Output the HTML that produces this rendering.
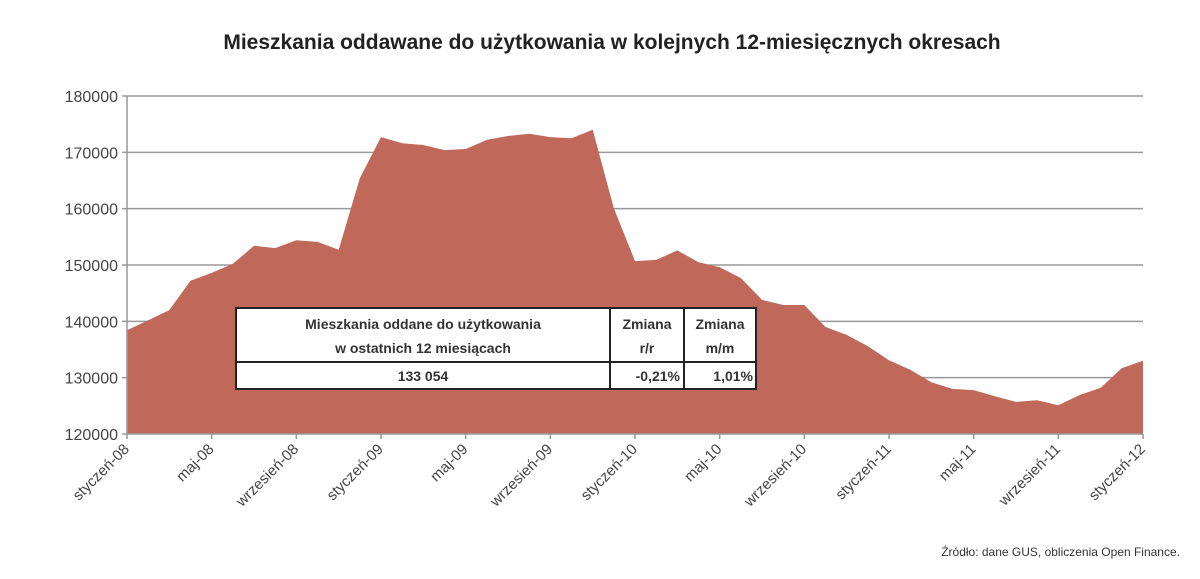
<!DOCTYPE html>
<html><head><meta charset="utf-8"><style>
body{margin:0;background:#fff;}
svg{display:block;font-family:"Liberation Sans",sans-serif;}
</style></head><body>
<svg id="chart" width="1200" height="579">
<text x="612" y="49" text-anchor="middle" font-size="21" font-weight="bold" fill="#222">Mieszkania oddawane do użytkowania w kolejnych 12-miesięcznych okresach</text>
<g id="grid"></g>
<g id="area"></g>
<g id="axes"></g>
<g>
<rect x="236" y="308" width="520" height="81" fill="#fff" stroke="#222" stroke-width="2"/>
<line x1="236" y1="362" x2="756" y2="362" stroke="#222" stroke-width="2"/>
<line x1="610" y1="308" x2="610" y2="389" stroke="#222" stroke-width="2"/>
<line x1="684" y1="308" x2="684" y2="389" stroke="#222" stroke-width="2"/>
<g font-size="14" font-weight="bold" fill="#333" text-anchor="middle">
<text x="423" y="329">Mieszkania oddane do użytkowania</text>
<text x="423" y="353">w ostatnich 12 miesiącach</text>
<text x="647" y="329">Zmiana</text>
<text x="647" y="353">r/r</text>
<text x="720" y="329">Zmiana</text>
<text x="720" y="353">m/m</text>
<text x="423" y="381">133 054</text>
<text x="680" y="381" text-anchor="end">-0,21%</text>
<text x="753" y="381" text-anchor="end">1,01%</text>
</g></g>
<text x="1180" y="556" text-anchor="end" font-size="12" fill="#333">Źródło: dane GUS, obliczenia Open Finance.</text>
</svg>
<script>
const values=[138400,140200,142000,147200,148600,150200,153400,153000,154400,154100,152700,165400,172700,171600,171300,170400,170600,172200,172900,173300,172700,172500,174000,160100,150700,150900,152600,150500,149600,147700,143800,142900,142900,139000,137600,135600,133100,131400,129200,128000,127800,126700,125700,126000,125100,126900,128200,131700,133000];
const tickLabels=["styczeń-08","maj-08","wrzesień-08","styczeń-09","maj-09","wrzesień-09","styczeń-10","maj-10","wrzesień-10","styczeń-11","maj-11","wrzesień-11","styczeń-12"];
const yTicks=[120000,130000,140000,150000,160000,170000,180000];
const NS="http://www.w3.org/2000/svg";
const x0=127,x1=1143,yTop=96,yBot=434,yMin=120000,yMax=180000;
const xs=i=>x0+(x1-x0)*i/(values.length-1);
const ys=v=>yBot-(v-yMin)/(yMax-yMin)*(yBot-yTop);
function mk(tag,attrs,parent){const e=document.createElementNS(NS,tag);for(const k in attrs)e.setAttribute(k,attrs[k]);parent.appendChild(e);return e;}
const grid=document.getElementById('grid'),area=document.getElementById('area'),axes=document.getElementById('axes');
yTicks.forEach(v=>{
  const y=ys(v);
  if(v>yMin){const l=mk('line',{x1:x0,x2:x1,y1:y,y2:y,stroke:'#999','stroke-width':1.5},grid);
  
  }
  const tk=mk('line',{x1:x0-5,x2:x0,y1:y,y2:y,stroke:'#999','stroke-width':1.5},axes);
  
  
  const t=mk('text',{x:x0-9,y:y+6,'text-anchor':'end','font-size':16,fill:'#444'},axes);
  t.textContent=v;
  
  
});
let d='M'+xs(0)+','+yBot;
values.forEach((v,i)=>{d+=' L'+xs(i).toFixed(1)+','+ys(v).toFixed(1);});
d+=' L'+xs(values.length-1)+','+yBot+' Z';
const p=mk('path',{d:d,fill:'#c0695a'},area);


const ax=mk('line',{x1:x0,x2:x1,y1:yBot,y2:yBot,stroke:'#999','stroke-width':1.5},axes);


const ay=mk('line',{x1:x0,x2:x0,y1:yTop,y2:yBot,stroke:'#999','stroke-width':1.5},axes);


tickLabels.forEach((lab,j)=>{
  const x=xs(j*4);
  const tk=mk('line',{x1:x,x2:x,y1:yBot,y2:yBot+5,stroke:'#999','stroke-width':1.5},axes);
  
  
  const t=mk('text',{x:x+3,y:yBot+16,'text-anchor':'end','font-size':15,fill:'#444',transform:'rotate(-45 '+(x+3)+' '+(yBot+16)+')'},axes);
  t.textContent=lab;
  
  
});
</script>
</body></html>
